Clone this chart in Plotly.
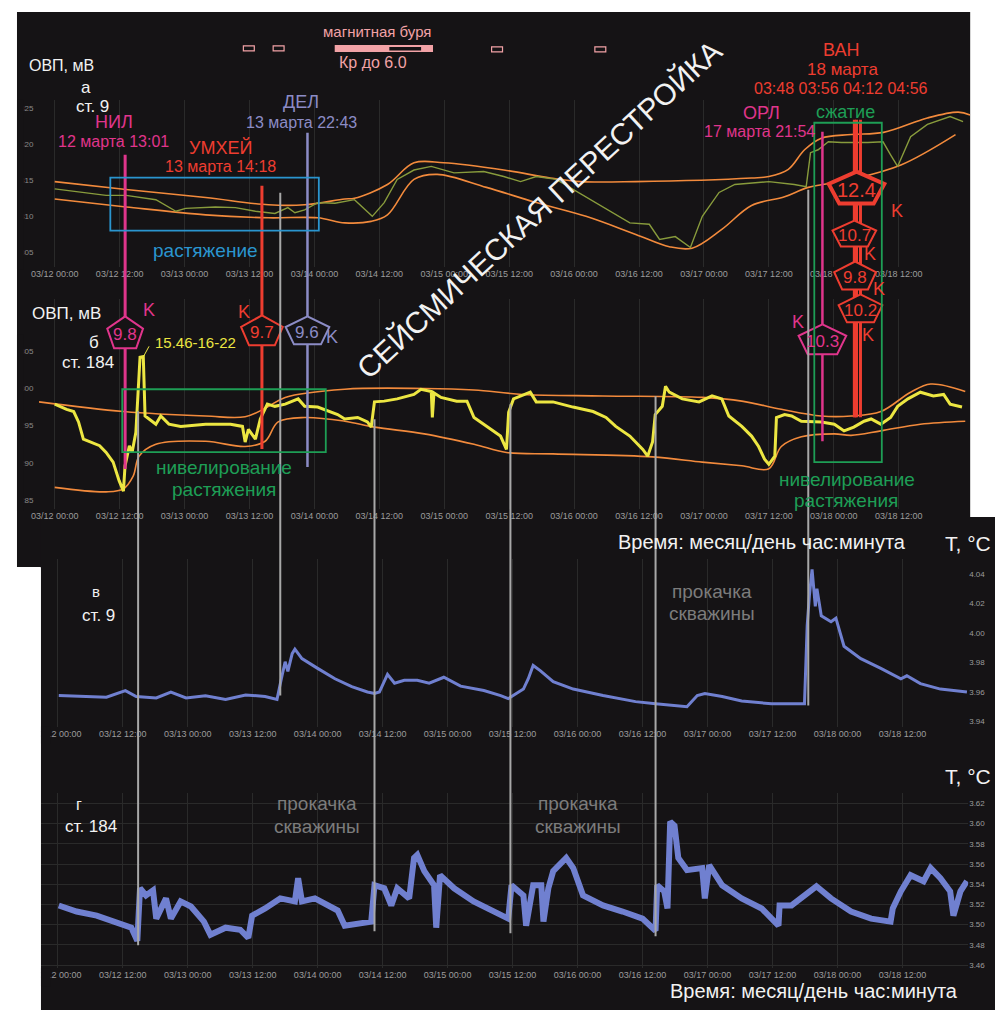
import pandas as pd
import plotly.graph_objects as go

W, H = 1003, 1018
OFF = 8                      # page body margin of the html page
FIG_W, FIG_H = W - 2 * OFF, H - 2 * OFF
BASE = pd.Timestamp("2021-03-12 00:00")

# ---------------- DATA (hours since 03/12 00:00) ----------------
# Panel а: ОВП, ст. 9 (mV)
ovp9_h = [0, 4.8, 9.5, 13.2, 18.7, 22.4, 24.2, 29.7, 33.4, 37.1, 40.7, 43.1, 44.4, 46.2, 48.6, 51.8, 55.4, 58.7,
          60.9, 63.3, 66.4, 69.6, 73.8, 79.3, 83.0, 86.1, 89.0, 92.7, 98.2, 102.6, 106.3, 109.9, 111.8, 114.7,
          117.5, 119.7, 122.8, 125.7, 132.0, 136.7, 138.9, 139.7, 141.1, 143.0, 145.4, 150.3, 153.1, 154.5,
          155.8, 158.2, 161.3, 165.5, 167.9]
ovp9_v = [313.8, 313.3, 312.9, 312.9, 312.3, 310.7, 311.1, 311.3, 311.2, 310.7, 310.4, 311.2, 310.5, 310.9,
          311.9, 311.8, 312.3, 310.0, 311.9, 315.1, 316.4, 316.9, 316.0, 316.2, 315.5, 314.8, 315.5, 315.1,
          312.7, 310.7, 309.1, 308.9, 306.8, 307.2, 305.7, 310.0, 313.3, 314.4, 314.8, 314.4, 314.1, 318.8,
          319.2, 320.3, 320.2, 320.2, 320.3, 318.5, 316.9, 321.0, 322.7, 323.8, 323.1]
ovp9_up_h = [0, 13.2, 27.9, 39.5, 46.2, 53.6, 55.4, 61.5, 66.4, 71.9, 83.0, 91.6, 97.1, 107.4, 128.8, 132.0,
             135.6, 138.6, 141.7, 147.2, 153.2, 161.3, 167.0, 169.2]
ovp9_up_v = [314.8, 313.7, 312.6, 311.6, 311.6, 312.4, 312.5, 314.4, 317.4, 317.4, 316.4, 315.3, 314.8, 314.8,
             315.3, 315.5, 316.5, 319.2, 320.8, 321.3, 321.6, 323.6, 324.4, 324.0]
ovp9_lo_h = [0, 13.2, 27.9, 39.5, 48.6, 53.6, 58.5, 61.5, 66.4, 70.7, 79.8, 89.0, 98.2, 107.4, 113.6, 117.8,
             123.3, 128.8, 134.9, 139.3, 147.2, 156.4, 166.5]
ovp9_lo_v = [312.4, 311.3, 310.2, 309.8, 309.8, 309.1, 309.3, 310.2, 315.1, 315.8, 314.0, 311.9, 310.0, 307.5,
             305.8, 305.6, 308.2, 311.5, 312.7, 314.0, 315.1, 317.1, 321.3]

# Panel б: ОВП, ст. 184 (mV)
ovp184_h = [0, 2.2, 3.5, 4.4, 5.3, 6.8, 8.3, 9.5, 10.8, 11.9, 12.7, 13.0, 13.8, 14.3, 15.0, 15.77, 16.37, 16.7,
            17.4, 18.7, 19.6, 21.1, 23.3, 27.9, 32.5, 34.7, 35.2, 35.8, 37.1, 38.0, 39.3, 40.7, 42.6, 45.0, 46.2,
            48.6, 52.3, 53.6, 56.0, 57.8, 58.5, 59.1, 60.9, 63.3, 66.4, 67.7, 69.6, 69.8, 70.1, 71.4, 74.3, 76.2,
            77.5, 79.8, 82.4, 83.5, 83.9, 84.8, 87.9, 89.0, 92.1, 95.8, 99.5, 101.9, 103.7, 106.3, 108.7, 109.6,
            110.5, 111.0, 112.3, 112.9, 113.6, 116.0, 119.1, 121.5, 123.3, 124.6, 127.0, 128.8, 130.1, 131.2,
            132.0, 133.1, 133.4, 134.9, 136.2, 138.0, 139.9, 141.7, 144.1, 145.9, 147.7, 149.6, 150.9, 152.7,
            154.5, 155.8, 157.7, 160.0, 162.4, 164.3, 165.5, 167.7]
ovp184_v = [297.9, 297.2, 296.9, 295.5, 293.2, 292.8, 292.3, 291.4, 290.1, 287.6, 286.2, 289.6, 292.3, 291.4,
            294.1, 304.2, 304.3, 296.3, 295.9, 295.2, 296.3, 295.2, 294.9, 295.2, 295.2, 294.9, 292.8, 294.5,
            293.2, 295.9, 297.9, 297.6, 297.9, 298.6, 297.6, 297.5, 296.5, 295.9, 296.1, 295.5, 294.8, 298.2,
            298.3, 298.6, 299.2, 299.9, 299.6, 296.1, 299.4, 298.8, 298.3, 298.3, 296.1, 294.9, 293.6, 291.8,
            296.8, 298.6, 299.5, 298.2, 298.2, 297.5, 296.9, 296.1, 294.9, 293.6, 291.8, 290.9, 292.8, 296.5,
            297.6, 300.3, 299.5, 298.6, 298.2, 299.0, 298.6, 296.3, 294.9, 293.6, 292.2, 290.5, 289.8, 290.9,
            296.1, 296.5, 296.3, 295.6, 295.5, 295.5, 295.2, 294.3, 294.8, 295.6, 295.9, 295.2, 296.1, 297.6,
            298.6, 299.5, 299.0, 299.2, 297.9, 297.5]
ovp184_up_h = [-2.9, 12.7, 27.9, 35.2, 39.3, 42.6, 53.6, 68.3, 77.5, 86.6, 101.3, 119.7, 127.0, 134.3, 141.7,
               147.2, 152.7, 158.2, 161.9, 168.3]
ovp184_up_v = [298.2, 296.9, 296.3, 296.2, 297.5, 298.8, 299.9, 300.0, 299.8, 299.2, 299.0, 298.8, 298.3, 297.2,
               296.3, 296.3, 296.9, 299.5, 300.6, 299.6]
ovp184_lo_h = [0, 9.5, 12.7, 14.5, 15.6, 18.7, 27.9, 35.2, 38.9, 41.3, 46.2, 53.6, 59.1, 68.3, 77.5, 83.5, 92.1,
               110.5, 119.7, 127.0, 132.0, 134.3, 138.0, 144.1, 147.2, 152.7, 160.0, 168.3]
ovp184_lo_v = [286.7, 286.1, 286.5, 288.2, 290.9, 292.5, 292.9, 292.2, 292.9, 295.5, 296.1, 295.6, 294.8, 293.9,
               292.5, 291.4, 291.2, 290.8, 290.1, 289.6, 289.2, 292.2, 293.5, 293.9, 293.7, 294.3, 295.2, 295.6]

# Panel в: T, ст. 9 (°C)
t9_h = [0.2, 5.3, 9.0, 12.5, 14.5, 18.2, 20.9, 23.7, 27.3, 31.0, 34.7, 38.3, 40.5, 41.3, 42.0, 42.5, 43.3, 43.8,
        45.1, 48.0, 51.2, 54.3, 57.2, 58.5, 59.4, 60.9, 62.2, 64.0, 66.4, 68.6, 71.3, 74.4, 78.7, 81.8, 83.2, 86.0,
        86.9, 87.8, 89.1, 91.5, 95.2, 100.7, 106.7, 110.4, 116.2, 118.1, 119.5, 122.7, 126.3, 131.8, 137.9, 138.4,
        138.8, 139.3, 139.9, 140.2, 141.0, 142.8, 143.7, 145.2, 148.3, 152.0, 155.7, 156.8, 159.3, 163.0, 167.9]
t9_v = [3.9576, 3.957, 3.9565, 3.961, 3.957, 3.956, 3.960, 3.956, 3.9575, 3.955, 3.958, 3.957, 3.955, 3.969,
        3.9805, 3.974, 3.986, 3.989, 3.9826, 3.976, 3.969, 3.9636, 3.960, 3.959, 3.960, 3.972, 3.966, 3.968, 3.968,
        3.966, 3.970, 3.964, 3.961, 3.9576, 3.9555, 3.962, 3.969, 3.978, 3.9745, 3.967, 3.962, 3.9576, 3.9535,
        3.952, 3.950, 3.9576, 3.959, 3.957, 3.954, 3.952, 3.952, 4.005, 4.025, 4.043, 4.018, 4.030, 4.0116,
        4.0076, 4.010, 3.991, 3.9826, 3.976, 3.969, 3.971, 3.9657, 3.962, 3.960]

# Panel г: T, ст. 184 (°C)
t184_h = [0.2, 3.5, 7.2, 10.8, 13.6, 14.7, 15.2, 16.3, 17.6, 18.2, 20.0, 20.9, 22.7, 24.6, 27.0, 28.2, 31.0, 33.7,
          35.2, 35.9, 38.3, 41.1, 43.8, 44.4, 45.1, 47.5, 51.7, 53.0, 54.8, 57.9, 58.5, 60.3, 61.6, 62.7, 64.9,
          65.8, 66.4, 67.7, 69.5, 69.9, 70.6, 73.2, 76.8, 80.5, 83.2, 83.8, 86.0, 86.5, 87.8, 89.3, 89.7, 90.6,
          91.5, 93.9, 95.2, 97.0, 100.7, 104.3, 108.0, 110.4, 110.7, 112.0, 112.6, 113.1, 113.9, 114.6, 116.2,
          119.0, 119.5, 120.3, 122.7, 126.3, 130.0, 133.1, 133.3, 135.5, 139.2, 140.1, 142.8, 146.5, 150.2, 153.8,
          154.2, 155.7, 157.5, 159.9, 161.2, 163.0, 164.8, 165.4, 166.7, 167.9]
t184_v = [3.519, 3.513, 3.509, 3.503, 3.497, 3.484, 3.536, 3.529, 3.534, 3.506, 3.526, 3.506, 3.523, 3.518,
          3.503, 3.490, 3.497, 3.495, 3.487, 3.509, 3.516, 3.526, 3.523, 3.546, 3.523, 3.526, 3.514, 3.499, 3.501,
          3.503, 3.539, 3.536, 3.519, 3.536, 3.526, 3.566, 3.569, 3.553, 3.539, 3.497, 3.549, 3.536, 3.523, 3.513,
          3.506, 3.539, 3.529, 3.499, 3.539, 3.539, 3.503, 3.536, 3.553, 3.566, 3.556, 3.529, 3.519, 3.513, 3.506,
          3.494, 3.539, 3.533, 3.516, 3.602, 3.598, 3.566, 3.554, 3.556, 3.526, 3.559, 3.539, 3.526, 3.516, 3.499,
          3.519, 3.519, 3.533, 3.538, 3.526, 3.513, 3.506, 3.503, 3.516, 3.533, 3.549, 3.543, 3.556, 3.546, 3.533,
          3.509, 3.533, 3.543]

# Well pumping moments (hours)
pump_h = [14.85, 41.1, 58.5, 83.6, 110.4, 138.6]

# Earthquakes
quake_name = ["НИЛ", "УМХЕЙ", "ДЕЛ", "ОРЛ", "ВАН", "ВАН", "ВАН", "ВАН"]
quake_time = ["2021-03-12 13:01", "2021-03-13 14:18", "2021-03-13 22:43", "2021-03-17 21:54",
              "2021-03-18 03:48", "2021-03-18 03:56", "2021-03-18 04:12", "2021-03-18 04:56"]
quake_K = [9.8, 9.7, 9.6, 10.3, 10.7, 9.8, 12.4, 10.2]

tick_h = [12 * i for i in range(14)]
ovp_a_ticks = [305, 310, 315, 320, 325]
ovp_b_ticks = [285, 290, 295, 300, 305]
t9_ticks = [3.94, 3.96, 3.98, 4.00, 4.02, 4.04]
t184_ticks = [3.46, 3.48, 3.50, 3.52, 3.54, 3.56, 3.58, 3.60, 3.62]

# ---------------- STYLE / LAYOUT ----------------
BG = "#151315"
WHITE = "#f2f2f2"
MAG = "#e0358c"
RED = "#ee3d30"
PUR = "#8c8cc6"
GREEN = "#1e9e55"
BLUE = "#2a95cf"
ORANGE = "#f28a3c"
YELLOW = "#ece642"
OLIVE = "#889b3c"
TBLUE = "#7080d0"
PINK = "#f2a2a6"
GRAYT = "#7c7c7c"
PUMP = "#a8a8a8"
FONT = "Liberation Sans, Arial, sans-serif"


def T(hours):
    return [str(BASE + pd.Timedelta(hours=h)) for h in hours]


def PX(x):  # window pixel -> paper fraction
    return (x - OFF) / FIG_W


def PY(y):
    return 1 - (y - OFF) / FIG_H


TOP_RANGE_H = (-6.974, 169.21)
BOT_RANGE_H = (-3.117, 168.13)
TOP_DOM = (10, 970)
BOT_DOM = (34, 968)
HPP = (TOP_RANGE_H[1] - TOP_RANGE_H[0]) / (TOP_DOM[1] - TOP_DOM[0])

q_col = [MAG, RED, PUR, MAG, RED, RED, RED, RED]
q_line = [(155, 470), (186, 450), (133, 468), (132, 442), (120, 418), (132, 418), (120, 418), (120, 418)]
q_lw = [3, 3, 2.5, 2.5, 3, 3.5, 3, 3]
q_pent = [(333, 36, 32, 2), (331, 42, 30, 2), (331, 44, 28, 2), (340, 48, 30, 2),
          (234, 44, 26, 2), (276, 42, 28, 2), (188, 56, 32, 4), (309, 44, 28, 2)]
q_kpos = [(143, 311), (239, 313), (327, 338), (797, 323), (869, 254), (878, 290), (896, 211), (867, 336)]
q_fs = [17, 17, 17, 17, 17, 17, 20, 17]
pump_y = [(412, 947), (193, 697), (420, 933), (405, 935), (397, 938), (190, 707)]

fig = go.Figure()

# panel а
fig.add_trace(go.Scatter(x=T(ovp9_up_h), y=ovp9_up_v, mode="lines", line=dict(color=ORANGE, width=1.6, shape="spline"),
                         xaxis="x", yaxis="y"))
fig.add_trace(go.Scatter(x=T(ovp9_lo_h), y=ovp9_lo_v, mode="lines", line=dict(color=ORANGE, width=1.6, shape="spline"),
                         xaxis="x", yaxis="y"))
fig.add_trace(go.Scatter(x=T(ovp9_h), y=ovp9_v, mode="lines", line=dict(color=OLIVE, width=1.4),
                         xaxis="x", yaxis="y"))
# panel б
fig.add_trace(go.Scatter(x=T(ovp184_up_h), y=ovp184_up_v, mode="lines",
                         line=dict(color=ORANGE, width=1.6, shape="spline"), xaxis="x2", yaxis="y2"))
fig.add_trace(go.Scatter(x=T(ovp184_lo_h), y=ovp184_lo_v, mode="lines",
                         line=dict(color=ORANGE, width=1.6, shape="spline"), xaxis="x2", yaxis="y2"))
fig.add_trace(go.Scatter(x=T(ovp184_h), y=ovp184_v, mode="lines", line=dict(color=YELLOW, width=3),
                         xaxis="x2", yaxis="y2"))
# panel в
fig.add_trace(go.Scatter(x=T(t9_h), y=t9_v, mode="lines", line=dict(color=TBLUE, width=3),
                         xaxis="x3", yaxis="y3"))
# panel г
fig.add_trace(go.Scatter(x=T(t184_h), y=t184_v, mode="lines", line=dict(color=TBLUE, width=6),
                         xaxis="x4", yaxis="y4"))

# pumping lines (overlay, window-pixel y axis)
for h, (y0, y1) in zip(pump_h, pump_y):
    t = T([h])[0]
    fig.add_trace(go.Scatter(x=[t, t], y=[y0, y1], mode="lines", line=dict(color=PUMP, width=2),
                             xaxis="x6", yaxis="y5"))

# earthquake lines
for t, c, (y0, y1), lw in zip(quake_time, q_col, q_line, q_lw):
    fig.add_trace(go.Scatter(x=[t, t], y=[y0, y1], mode="lines", line=dict(color=c, width=lw),
                             xaxis="x5", yaxis="y5"))

# pentagons with K-values
ux = [0, 1, 0.618, -0.618, -1, 0]
vy = [-1, -0.236, 1, 1, -0.236, -1]
annotations = []
for t, c, k, (cy, w, hgt, lw), (kx, ky), fs in zip(quake_time, q_col, quake_K, q_pent, q_kpos, q_fs):
    tc = pd.Timestamp(t)
    xs = [str(tc + pd.Timedelta(hours=u * w / 2 * HPP)) for u in ux]
    ys = [cy + v * hgt / 2 for v in vy]
    fig.add_trace(go.Scatter(x=xs, y=ys, mode="lines", fill="toself", fillcolor=BG,
                             line=dict(color=c, width=lw), xaxis="x5", yaxis="y5"))
    annotations.append(dict(x=str(tc), y=cy + 2, xref="x5", yref="y5", text=f"{k}", showarrow=False,
                            font=dict(family=FONT, size=fs, color=c), xanchor="center", yanchor="middle"))
    annotations.append(dict(x=PX(kx), y=PY(ky), xref="paper", yref="paper", text="K", showarrow=False,
                            font=dict(family=FONT, size=18, color=c), xanchor="center", yanchor="middle"))

TEXTS = [
    ("магнитная буря", 373, 32, 15, PINK),
    ("Кр до 6.0", 369, 63, 16, PINK),
    ("ОВП, мВ", 55, 66, 16, WHITE),
    ("а", 80, 88, 17, WHITE),
    ("ст. 9", 86, 107, 17, WHITE),
    ("НИЛ", 108, 122, 18, MAG),
    ("12 марта 13:01", 107, 142, 16, MAG),
    ("УМХЕЙ", 215, 148, 18, RED),
    ("13 марта 14:18", 215, 167, 16, RED),
    ("ДЕЛ", 296, 102, 18, PUR),
    ("13 марта 22:43", 297, 123, 16, PUR),
    ("ВАН", 840, 50, 18, RED),
    ("18 марта", 841, 70, 17, RED),
    ("03:48 03:56 04:12 04:56", 840, 89, 16, RED),
    ("ОРЛ", 760, 113, 18, MAG),
    ("17 марта 21:54", 758, 132, 16, MAG),
    ("сжатие", 844, 112, 18, GREEN),
    ("растяжение", 200, 251, 19, BLUE),
    ("нивелирование", 218, 468, 19, GREEN),
    ("растяжения", 218, 490, 19, GREEN),
    ("нивелирование", 846, 480, 19, GREEN),
    ("растяжения", 845, 501, 19, GREEN),
    ("ОВП, мВ", 60, 314, 17, WHITE),
    ("б", 88, 343, 17, WHITE),
    ("ст. 184", 82, 363, 17, WHITE),
    ("15.46-16-22", 190, 343, 15, YELLOW),
    ("Время: месяц/день час:минута", 760, 543, 20, WHITE),
    ("T, °C", 968, 545, 21, WHITE),
    ("в", 90, 593, 15, WHITE),
    ("ст. 9", 92, 617, 17, WHITE),
    ("прокачка", 710, 593, 19, GRAYT),
    ("скважины", 710, 615, 19, GRAYT),
    ("T, °C", 968, 778, 21, WHITE),
    ("г", 72, 806, 16, WHITE),
    ("ст. 184", 85, 828, 17, WHITE),
    ("прокачка", 312, 805, 19, GRAYT),
    ("скважины", 312, 828, 19, GRAYT),
    ("прокачка", 575, 805, 19, GRAYT),
    ("скважины", 575, 828, 19, GRAYT),
    ("Время: месяц/день час:минута", 813, 993, 20, WHITE),
]
for txt, x, y, fs, c in TEXTS:
    annotations.append(dict(x=PX(x), y=PY(y), xref="paper", yref="paper", text=txt, showarrow=False,
                            font=dict(family=FONT, size=fs, color=c), xanchor="center", yanchor="middle"))
annotations.append(dict(x=PX(536), y=PY(210), xref="paper", yref="paper", text="СЕЙСМИЧЕСКАЯ ПЕРЕСТРОЙКА",
                        showarrow=False, textangle=-42.6, font=dict(family=FONT, size=30, color=WHITE),
                        xanchor="center", yanchor="middle"))


def rect(x0, y0, x1, y1, fill=None, line=None, lw=0, layer="above"):
    return dict(type="rect", xref="paper", yref="paper", x0=PX(x0), x1=PX(x1), y0=PY(y1), y1=PY(y0),
                fillcolor=fill if fill else "rgba(0,0,0,0)",
                line=dict(color=line if line else "rgba(0,0,0,0)", width=lw), layer=layer)


shapes = [
    rect(10, 12, 970, 568, fill=BG, layer="below"),
    rect(34, 518, 1010, 1020, fill=BG, layer="below"),
    # partially hidden tick labels
    rect(10, 100, 17, 270, fill=BG), rect(10, 335, 17, 512, fill=BG),
    rect(34, 728, 44, 745, fill=BG), rect(34, 970, 44, 988, fill=BG),
    rect(0, 569, 34, 1020, fill="white"),
    # boxes
    rect(104, 178, 314, 231, line=BLUE, lw=1.8),
    rect(116, 390, 321, 453, line=GREEN, lw=1.8),
    rect(813, 123, 881, 463, line=GREEN, lw=1.8),
    # magnetic storm marks
    rect(330, 45, 429, 52, fill=PINK),
    rect(385, 47, 417, 50.5, fill=BG),
    rect(238, 46, 249, 51, line=PINK, lw=1.2),
    rect(268, 46, 279, 51, line=PINK, lw=1.2),
    rect(488, 47, 499, 52, line=PINK, lw=1.2),
    rect(592, 47, 603, 52, line=PINK, lw=1.2),
    dict(type="line", xref="paper", yref="paper", x0=PX(137), y0=PY(358), x1=PX(143), y1=PY(347),
         line=dict(color=YELLOW, width=1)),
]

tickfont = dict(family="Liberation Sans Narrow, Liberation Sans, Arial", size=9, color="#9c9c9c")
xcommon = dict(type="date", tickvals=T(tick_h), tickformat="%m/%d %H:%M", showgrid=True, gridcolor="#2a2a2a",
               gridwidth=1, zeroline=False, showline=False, ticks="", tickfont=tickfont)
ycommon_left = dict(showgrid=False, zeroline=False, showline=False, ticks="", ticklabelposition="inside",
                    tickfont=dict(family=FONT, size=8, color="#8a8a8a"))
ycommon_right = dict(zeroline=False, showline=False, ticks="", side="right", tickformat=".2f",
                     tickfont=dict(family=FONT, size=8, color="#9c9c9c"))

fig.update_layout(
    width=FIG_W, height=FIG_H, margin=dict(l=0, r=0, t=0, b=0),
    paper_bgcolor="white", plot_bgcolor="rgba(0,0,0,0)", showlegend=False,
    xaxis=dict(domain=[PX(TOP_DOM[0]), PX(TOP_DOM[1])], range=T(TOP_RANGE_H), anchor="y", **xcommon),
    xaxis2=dict(domain=[PX(TOP_DOM[0]), PX(TOP_DOM[1])], matches="x", anchor="y2", **xcommon),
    xaxis3=dict(domain=[PX(BOT_DOM[0]), PX(BOT_DOM[1])], range=T(BOT_RANGE_H), anchor="y3", **xcommon),
    xaxis4=dict(domain=[PX(BOT_DOM[0]), PX(BOT_DOM[1])], matches="x3", anchor="y4", **xcommon),
    xaxis5=dict(domain=[PX(TOP_DOM[0]), PX(TOP_DOM[1])], matches="x", anchor="y5", visible=False,
                showgrid=False, type="date"),
    xaxis6=dict(domain=[PX(BOT_DOM[0]), PX(BOT_DOM[1])], matches="x3", anchor="y5", visible=False,
                showgrid=False, type="date"),
    yaxis=dict(domain=[PY(268), PY(100)], range=[302.931, 326.103], tickvals=ovp_a_ticks, anchor="x",
               **ycommon_left),
    yaxis2=dict(domain=[PY(510), PY(300)], range=[283.792, 311.980], tickvals=ovp_b_ticks, anchor="x2",
                **ycommon_left),
    yaxis3=dict(domain=[PY(728), PY(560)], range=[3.93662, 4.05014], tickvals=t9_ticks, anchor="x3",
                showgrid=False, **ycommon_right),
    yaxis4=dict(domain=[PY(970), PY(795)], range=[3.45704, 3.62988], tickvals=t184_ticks, anchor="x4",
                showgrid=True, gridcolor="#2a2a2a", **ycommon_right),
    yaxis5=dict(domain=[0, 1], range=[OFF + FIG_H, OFF], anchor="x5", visible=False, showgrid=False),
    shapes=shapes, annotations=annotations,
)

fig.write_html("out.html")
